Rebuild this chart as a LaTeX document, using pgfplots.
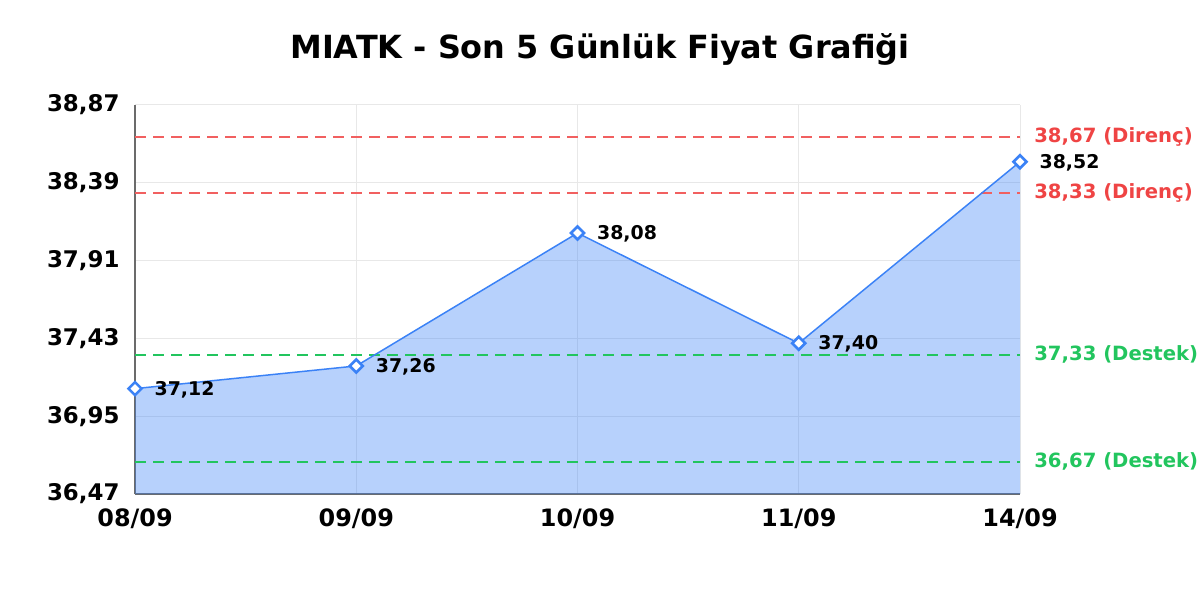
\documentclass[border=0pt]{standalone}
\usepackage{pgfplots}
\pgfplotsset{compat=1.18}
\usepackage{fontspec}
\setmainfont{DejaVu Sans}

\definecolor{lineblue}{HTML}{3B82F6}
\definecolor{resred}{HTML}{EF4444}
\definecolor{supgreen}{HTML}{22C55E}
\definecolor{gridgray}{HTML}{E8E8E8}
\definecolor{axisgray}{HTML}{6B6B6B}

\begin{document}
\begin{tikzpicture}
\useasboundingbox (0,0) rectangle (1200bp,600bp);
\node[font=\fontsize{32}{37}\selectfont\bfseries] at (600bp,551bp) {MIATK - Son 5 Günlük Fiyat Grafiği};
\begin{axis}[
    at={(135bp,106bp)}, anchor=south west,
    scale only axis,
    width=885bp, height=389bp,
    xmin=0, xmax=4,
    ymin=36.47, ymax=38.87,
    xtick={0,1,2,3,4},
    xticklabels={08/09,09/09,10/09,11/09,14/09},
    ytick={36.47,36.95,37.43,37.91,38.39,38.87},
    yticklabels={{36,47},{36,95},{37,43},{37,91},{38,39},{38,87}},
    axis x line*=bottom,
    axis y line*=left,
    axis line style={axisgray, line width=1.4pt},
    x axis line style={-}, y axis line style={-},
    major tick length=0pt,
    grid=major,
    grid style={gridgray, line width=1pt},
    yticklabel style={font=\fontsize{23}{26}\selectfont\bfseries, xshift=-12bp},
    xticklabel style={font=\fontsize{24}{27}\selectfont\bfseries, yshift=-11bp},
    clip=false,
    /pgf/number format/assume math mode=true,
]
% area under the price line
\addplot[draw=none, fill=lineblue, fill opacity=0.37]
    coordinates {(0,37.12)(1,37.26)(2,38.08)(3,37.40)(4,38.52)} \closedcycle;

% resistance and support levels
\addplot[resred!85, dash pattern=on 11bp off 7bp, line width=2pt]
    coordinates {(0,38.67)(4,38.67)}
    node[pos=1, anchor=west, xshift=10bp, text=resred, font=\fontsize{19.7}{23}\selectfont\bfseries] {38,67 (Direnç)};
\addplot[resred!85, dash pattern=on 11bp off 7bp, line width=2pt]
    coordinates {(0,38.33)(4,38.33)}
    node[pos=1, anchor=west, xshift=10bp, text=resred, font=\fontsize{19.7}{23}\selectfont\bfseries] {38,33 (Direnç)};
\addplot[supgreen, dash pattern=on 11bp off 7bp, line width=2pt]
    coordinates {(0,37.33)(4,37.33)}
    node[pos=1, anchor=west, xshift=10bp, text=supgreen, font=\fontsize{19.7}{23}\selectfont\bfseries] {37,33 (Destek)};
\addplot[supgreen, dash pattern=on 11bp off 7bp, line width=2pt]
    coordinates {(0,36.67)(4,36.67)}
    node[pos=1, anchor=west, xshift=10bp, text=supgreen, font=\fontsize{19.7}{23}\selectfont\bfseries] {36,67 (Destek)};

% price line
\addplot[lineblue, line width=1.5pt,
    mark=square*, mark size=4.6pt,
    mark options={fill=white, draw=lineblue, line width=2.6pt, rotate=45},
    nodes near coords={\pgfmathprintnumber[fixed, fixed zerofill, precision=2, use comma]{\pgfplotspointmeta}},
    nodes near coords style={anchor=west, xshift=15bp, yshift=-1bp, text=black, font=\fontsize{19}{22}\selectfont\bfseries},
]
    coordinates {(0,37.12)(1,37.26)(2,38.08)(3,37.40)(4,38.52)};
\end{axis}
\end{tikzpicture}
\end{document}
